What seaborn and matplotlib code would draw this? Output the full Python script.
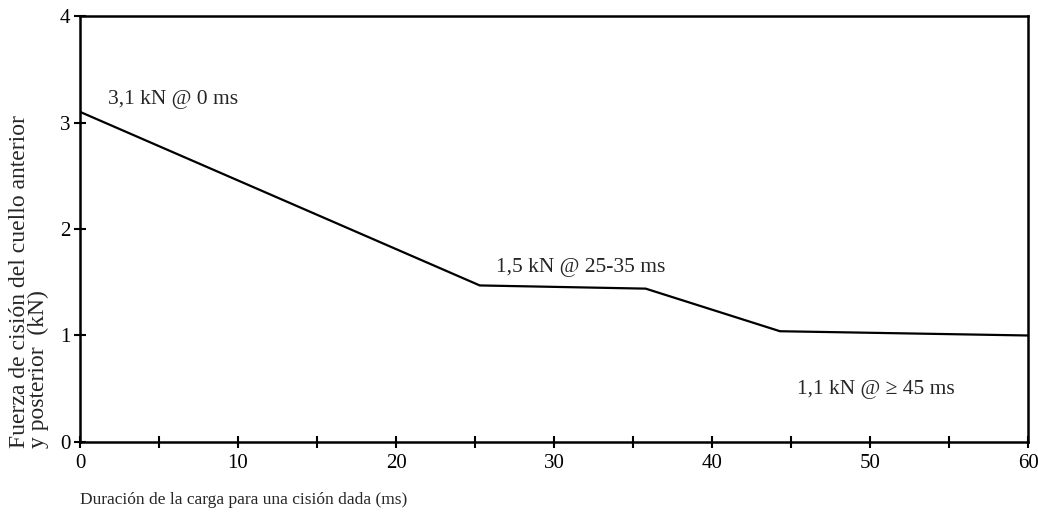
import numpy as np
import pandas as pd
import seaborn as sns
import matplotlib.pyplot as plt

# datos
duracion = [0, 25.3, 35.8, 44.3, 60]          # ms
fuerza = [3.1, 1.47, 1.44, 1.04, 1.0]         # kN
x_ticks = [0, 5, 10, 15, 20, 25, 30, 35, 40, 45, 50, 55, 60]
x_labels = ["0", "", "10", "", "20", "", "30", "", "40", "", "50", "", "60"]
y_ticks = [0, 1, 2, 3, 4]
notas = ["3,1 kN @ 0 ms", "1,5 kN @ 25-35 ms", "1,1 kN @ \u2265 45 ms"]
notas_x = [1.8, 26.3, 45.4]
notas_y = [3.22, 1.64, 0.49]

sns.set_style("white")
plt.rcParams['font.family'] = ['Liberation Serif', 'DejaVu Serif']

df = pd.DataFrame({"duracion": duracion, "fuerza": fuerza})

fig = plt.figure(figsize=(10.38, 5.22), dpi=100)
ax = fig.add_axes([0.0771, 0.1533, 0.9133, 0.816])
sns.lineplot(data=df, x="duracion", y="fuerza", color="black", linewidth=1.6, ax=ax)

ax.set_xlim(0, 60)
ax.set_ylim(0, 4)
ax.set_xticks(x_ticks)
ax.set_xticklabels(x_labels)
ax.set_yticks(y_ticks)
ax.tick_params(axis="both", direction="inout", length=8, width=1.5,
               labelsize=15, colors="black")
ax.tick_params(axis="x", pad=5, bottom=True)
ax.tick_params(axis="y", pad=3, left=True)
for s in ax.spines.values():
    s.set_visible(True)
    s.set_color("black")
    s.set_linewidth(1.8)

for t, xx, yy in zip(notas, notas_x, notas_y):
    ax.text(xx, yy, t, fontsize=15.5, va="center", ha="left")

ax.set_xlabel("")
ax.set_ylabel("")
fig.text(80 / 1038, 1 - 500 / 522, "Duraci\u00f3n de la carga para una cisi\u00f3n dada (ms)",
         fontsize=12.5, ha="left", va="center")
fig.text(29 / 1038, 1 - 282 / 522,
         "Fuerza de cisi\u00f3n del cuello anterior\ny posterior  (kN)",
         fontsize=17, rotation=90, ha="center", va="center", multialignment="left",
         linespacing=0.9)

fig.savefig("out.png", dpi=100)
